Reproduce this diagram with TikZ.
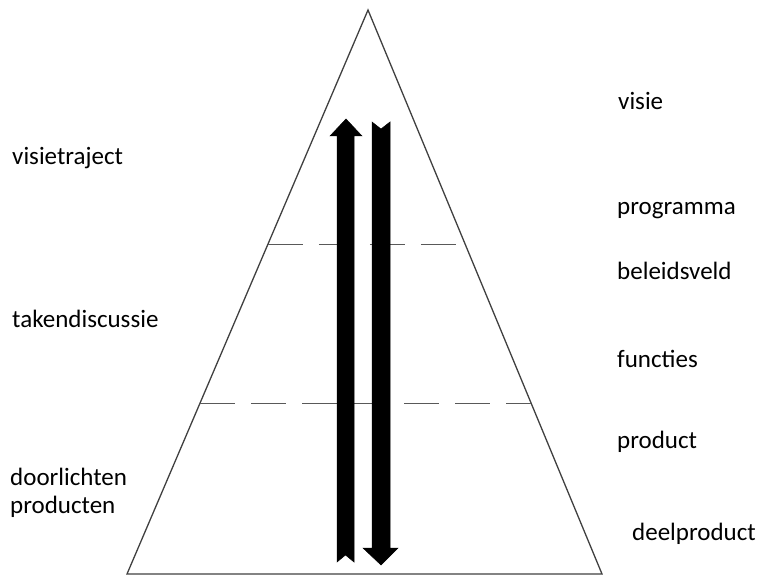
\documentclass[tikz,border=0pt]{standalone}
\usepackage{fontspec}
\setmainfont{Carlito}
\usetikzlibrary{calc}
\begin{document}
\begin{tikzpicture}[x=1pt,y=-1pt,
  side/.style={draw=black!75,line width=1.3pt},
  level/.style={draw=black!65,line width=1.1pt,dash pattern=on 35pt off 16pt},
  blockarrow/.style={fill=black,draw=black,line width=0.5pt},
  lbl/.style={anchor=base west,inner sep=0pt,font=\fontsize{25}{29}\selectfont}]
\useasboundingbox (0,0) rectangle (758,577);
% triangle
\coordinate (A) at (368,10);
\coordinate (L) at (127,574);
\coordinate (R) at (602,574);
\draw[side,line join=miter] (A) -- (L) -- (R) -- cycle;
% level lines
\coordinate (u1) at ($(A)!0.415!(L)$);
\coordinate (u2) at ($(A)!0.415!(R)$);
\coordinate (d1) at ($(A)!0.697!(L)$);
\coordinate (d2) at ($(A)!0.697!(R)$);
\draw[level] (u1) -- (u2);
\draw[level] (d1) -- (d2);
% up arrow
\fill[blockarrow] (337,562) -- (345.5,555) -- (354,562) -- (354,136) -- (362,136)
  -- (346,119) -- (330,136) -- (337,136) -- cycle;
% down arrow
\fill[blockarrow] (372,122) -- (381,129) -- (390,122) -- (390,548) -- (398,548)
  -- (381,565) -- (363,548) -- (372,548) -- cycle;
% left labels
\node[lbl] (vt) at (12,165) {visietraject};
\node[lbl] (td) at (12,328) {takendiscussie};
\node[lbl] (dl) at (10,485) {doorlichten};
\node[lbl] (pr) at (10,513) {producten};
% right labels
\node[lbl] (vi) at (618,110) {visie};
\node[lbl] (pg) at (617,215) {programma};
\node[lbl] (bv) at (617,280) {beleidsveld};
\node[lbl] (fu) at (617,367) {functies};
\node[lbl] (pd) at (617,448) {product};
\node[lbl] (dp) at (632,540) {deelproduct};
\end{tikzpicture}
\end{document}
